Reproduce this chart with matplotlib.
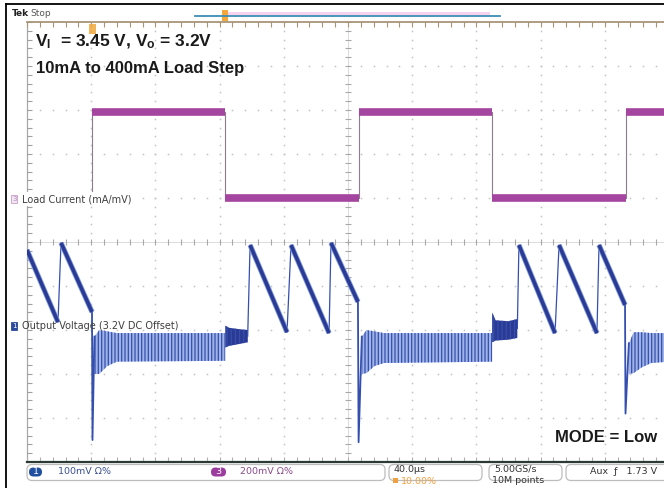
import matplotlib
matplotlib.use("Agg")
import matplotlib.pyplot as plt
import numpy as np
from matplotlib.patches import FancyBboxPatch, Rectangle

W, H = 664, 488

# channel 3: load current step (mA)
load_t_us = [0.0, 40.5, 40.5, 123.5, 123.5, 206.9, 206.9, 290.0, 290.0, 373.3, 373.3, 400.0]
load_ma = [10, 10, 400, 400, 10, 10, 400, 400, 10, 10, 400, 400]

# channel 1: output voltage (mV around the 3.2 V offset)
# light-load sawtooth ramps: start / end of each ramp
ramp_t0_us = [0.0, 21.2, 139.0, 164.5, 189.4, 306.5, 331.5, 356.4]
ramp_v0_mv = [-18, -2, -7, -7, -2, -7, -7, -7]
ramp_t1_us = [19.3, 40.5, 162.0, 188.2, 206.2, 329.0, 355.1, 372.6]
ramp_v1_mv = [-182, -159, -205, -207, -136, -207, -207, -143]

# undershoot at each load rise
spike_t_us = [40.8, 206.6, 372.9]
spike_mv = [-450, -455, -390]

# heavy-load switching ripple envelope
band_t_us = [
    [42.0, 45.0, 50.0, 56.0, 123.5],
    [208.6, 211.5, 216.5, 222.5, 289.8],
    [375.0, 378.0, 383.0, 389.0, 400.0],
]
band_hi_mv = [
    [-215, -200, -203, -207, -207],
    [-215, -200, -203, -207, -207],
    [-230, -205, -205, -207, -207],
]
band_lo_mv = [
    [-300, -300, -282, -272, -270],
    [-300, -298, -282, -275, -272],
    [-300, -298, -285, -275, -272],
]

# recovery after each load release
blob_t_us = [[123.5, 126.0, 132.0, 137.5], [289.8, 292.0, 300.0, 305.5]]
blob_hi_mv = [[-190, -195, -198, -200], [-160, -178, -180, -175]]
blob_lo_mv = [[-240, -236, -232, -228], [-228, -224, -222, -218]]

PURPLE = "#a4469f"
PURPLE_EDGE = "#8f7b8f"
BLUE_DARK = "#2b3a93"
BLUE_MID = "#344fae"
BLUE_LIGHT = "#7f9ce0"
BAND_FACE = "#9fb3e6"
GRID = "#c2c2c2"

plt.rcParams["hatch.linewidth"] = 0.9
plt.rcParams["mathtext.default"] = "regular"


def px_rect(x0, y0, x1, y1):
    """Figure-fraction rect from pixel corners (y down)."""

    return [x0 / W, 1 - y1 / H, (x1 - x0) / W, (y1 - y0) / H]


def draw_graticule(ax):
    """Tek style 10 x 10 graticule with the centre cross."""

    x0, x1 = ax.get_xlim()
    y0, y1 = ax.get_ylim()
    xdiv = (x1 - x0) / 10
    ydiv = (y1 - y0) / 10
    xs = np.arange(x0, x1 + 1e-9, xdiv / 5)
    ys = np.arange(y0, y1 + 1e-9, ydiv / 5)

    for k in range(1, 10):
        if k == 5:
            continue
        ax.plot(np.full_like(ys, x0 + k * xdiv), ys, ls="none", marker="s",
                ms=1.1, color=GRID, mew=0, zorder=1)
        ax.plot(xs, np.full_like(xs, y0 + k * ydiv), ls="none", marker="s",
                ms=1.1, color=GRID, mew=0, zorder=1)

    xc = (x0 + x1) / 2
    yc = (y0 + y1) / 2
    ax.axhline(yc, color="#d6d6d6", lw=0.6, zorder=1)
    ax.axvline(xc, color="#d6d6d6", lw=0.6, zorder=1)
    ax.plot(xs, np.full_like(xs, yc), ls="none", marker="|", ms=4,
            color="#a8a8a8", mew=0.8, zorder=1)
    ax.plot(np.full_like(ys, xc), ys, ls="none", marker="_", ms=4,
            color="#a8a8a8", mew=0.8, zorder=1)

    # screen borders
    ax.plot([x0, x0], [y0, y1], color="#a9a9a9", lw=0.9, clip_on=False, zorder=1)
    ax.plot(np.full_like(ys, x0), ys, ls="none", marker="_", ms=7,
            color="#a0a0a0", mew=0.8, zorder=1)
    ax.plot([x0, x1], [y1, y1], color="#a89578", lw=1.3, clip_on=False, zorder=1)
    ax.plot(xs, np.full_like(xs, y1), ls="none", marker="|", ms=7,
            color="#a89578", mew=0.8, zorder=1)
    ax.plot(xs, np.full_like(xs, y0), ls="none", marker="|", ms=7,
            color="#b0b0b0", mew=0.8, zorder=1)
    ax.plot([x0, x1], [y0, y0], color="#2c3a34", lw=1.6, clip_on=False, zorder=2)


def draw_load_current(ax):
    """Channel 3 square wave: thin edges, thick levels."""

    ax.plot(load_t_us, load_ma, color=PURPLE_EDGE, lw=0.8, zorder=4)

    for i in range(len(load_t_us) - 1):
        if load_ma[i] == load_ma[i + 1]:
            ax.plot(load_t_us[i:i + 2], load_ma[i:i + 2], color=PURPLE,
                    lw=5.5, solid_capstyle="butt", zorder=5)


def draw_output_voltage(ax):
    """Channel 1: PFM sawtooth, ripple bands and load-step spikes."""

    for t, hi, lo in zip(band_t_us, band_hi_mv, band_lo_mv):
        ax.fill_between(t, lo, hi, facecolor=BAND_FACE, edgecolor=BLUE_MID,
                        hatch="|||||", lw=0, zorder=3)

    for t, hi, lo in zip(blob_t_us, blob_hi_mv, blob_lo_mv):
        ax.fill_between(t, lo, hi, facecolor=BLUE_DARK, edgecolor=BLUE_MID,
                        hatch="||||", lw=0, zorder=3)

    # jumps between ramps inside one light-load period
    for i in range(len(ramp_t0_us) - 1):
        if ramp_t0_us[i + 1] - ramp_t1_us[i] < 3:
            ax.plot([ramp_t1_us[i], ramp_t0_us[i + 1]],
                    [ramp_v1_mv[i], ramp_v0_mv[i + 1]],
                    color=BLUE_MID, lw=0.9, zorder=4)

    # recovery blob into the first ramp
    for t, hi, lo in zip(blob_t_us, blob_hi_mv, blob_lo_mv):
        j = int(np.argmin([abs(t0 - t[-1]) for t0 in ramp_t0_us]))
        ax.plot([t[-1], ramp_t0_us[j]], [(hi[-1] + lo[-1]) / 2, ramp_v0_mv[j]],
                color=BLUE_MID, lw=0.9, zorder=4)

    # undershoot spikes at load rise
    for k, (ts, vs) in enumerate(zip(spike_t_us, spike_mv)):
        j = int(np.argmin([abs(t1 - ts) for t1 in ramp_t1_us]))
        ax.plot([ramp_t1_us[j], ts, band_t_us[k][0]],
                [ramp_v1_mv[j], vs, band_hi_mv[k][0]],
                color=BLUE_MID, lw=1.3, zorder=4)

    for t0, v0, t1, v1 in zip(ramp_t0_us, ramp_v0_mv, ramp_t1_us, ramp_v1_mv):
        ax.plot([t0, t1], [v0, v1], color=BLUE_LIGHT, lw=3.8,
                solid_capstyle="butt", zorder=5)
        ax.plot([t0, t1], [v0, v1], color=BLUE_DARK, lw=2.6,
                solid_capstyle="butt", zorder=6)


def draw_chrome(back, front):
    """Frame, record bar, markers and the status readouts."""

    back.plot([6, W], [4, 4], color="black", lw=1.3)
    back.plot([6, 6], [4, H], color="black", lw=1.3)

    # record length bar
    back.add_patch(Rectangle((228, 11.5), 262, 3, color="#f6d2f1", lw=0))
    back.plot([195, 500], [16, 16], color="#3b8db5", lw=1.3)
    back.add_patch(Rectangle((222, 10), 6, 11, color="#f2a83c", lw=0))

    # trigger position marker
    front.add_patch(Rectangle((89, 24), 7, 10, color="#f2a83c", lw=0, alpha=0.85))

    front.text(12, 14, "Tek", fontsize=6.5, fontweight="bold", color="#222222",
               va="center", family="DejaVu Sans")
    front.text(30, 14, "Stop", fontsize=6.5, color="#555555",
               va="center", family="DejaVu Sans")

    # status boxes
    for x0, x1 in [(27, 385), (389, 482), (489, 562), (566, 690)]:
        back.add_patch(FancyBboxPatch((x0, 464.5), x1 - x0, 16,
                                      boxstyle="round,pad=0,rounding_size=5",
                                      facecolor="white", edgecolor="#bdbdbd", lw=0.9))

    status = dict(fontsize=6.8, va="center", family="DejaVu Sans")

    back.add_patch(FancyBboxPatch((29, 467.5), 13, 9,
                                  boxstyle="round,pad=0,rounding_size=4.5",
                                  facecolor="#1f4f9e", edgecolor="none"))
    front.text(35.5, 472, "1", color="white", ha="center", **status)
    front.text(58, 472, "100mV Ω%", color="#3a4f8f", **status)

    back.add_patch(FancyBboxPatch((211, 467.5), 15, 9,
                                  boxstyle="round,pad=0,rounding_size=4.5",
                                  facecolor="#9c3c9c", edgecolor="none"))
    front.text(218.5, 472, "3", color="white", ha="center", **status)
    front.text(240, 472, "200mV Ω%", color="#8a4a8a", **status)

    front.text(394, 470, "40.0µs", color="#333333", **status)
    back.add_patch(Rectangle((393, 478), 5, 5, color="#f0a040", lw=0))
    front.text(401, 481, "10.00%", color="#f0a040", **status)

    front.text(494, 469, "5.00GS/s", color="#333333", **status)
    front.text(492, 480.5, "10M points", color="#333333", **status)

    front.text(590, 471, "Aux  ƒ   1.73 V", color="#333333", **status)


def draw_labels(front):
    """Channel labels and the annotation text."""

    front.text(12, 199, "3", fontsize=5, color="#b58cb5", va="center",
               family="DejaVu Sans",
               bbox=dict(facecolor="#f3e6f3", edgecolor="#c9a0c9", pad=0.6, lw=0.6))
    front.text(22, 199, "Load Current (mA/mV)", fontsize=7, color="#3f3f3f",
               va="center", family="DejaVu Sans",
               bbox=dict(facecolor="white", edgecolor="none", pad=1.5))

    front.text(12, 326, "1", fontsize=5, color="white", va="center",
               family="DejaVu Sans",
               bbox=dict(facecolor="#2a4a9a", edgecolor="#2a4a9a", pad=0.6, lw=0.6))
    front.text(22, 326, "Output Voltage (3.2V DC Offset)", fontsize=7,
               color="#3f3f3f", va="center", family="DejaVu Sans")

    bold = dict(fontweight="bold", color="#1a1a1a", family="Liberation Sans",
                va="baseline")
    front.text(35, 46.5, "V$_I$  = 3.45 V, V$_o$ = 3.2V", fontsize=12.5, **bold)
    front.text(36, 73.5, "10mA to 400mA Load Step", fontsize=12, **bold)
    front.text(555, 442, "MODE = Low", fontsize=12, **bold)


fig = plt.figure(figsize=(W / 100, H / 100), dpi=100)

back = fig.add_axes([0, 0, 1, 1], zorder=0)
back.set_xlim(0, W)
back.set_ylim(H, 0)
back.axis("off")

scope = fig.add_axes(px_rect(27, 22, 669, 462), zorder=2)
scope.set_xlim(0, 400)
scope.set_ylim(-500, 500)
scope.axis("off")

current = fig.add_axes(px_rect(27, 22, 669, 462), sharex=scope, zorder=3)
current.set_ylim(-1190, 810)
current.axis("off")

front = fig.add_axes([0, 0, 1, 1], zorder=10)
front.set_xlim(0, W)
front.set_ylim(H, 0)
front.axis("off")

draw_graticule(scope)
draw_output_voltage(scope)
draw_load_current(current)
draw_chrome(back, front)
draw_labels(front)

fig.savefig("out.png", dpi=100)
